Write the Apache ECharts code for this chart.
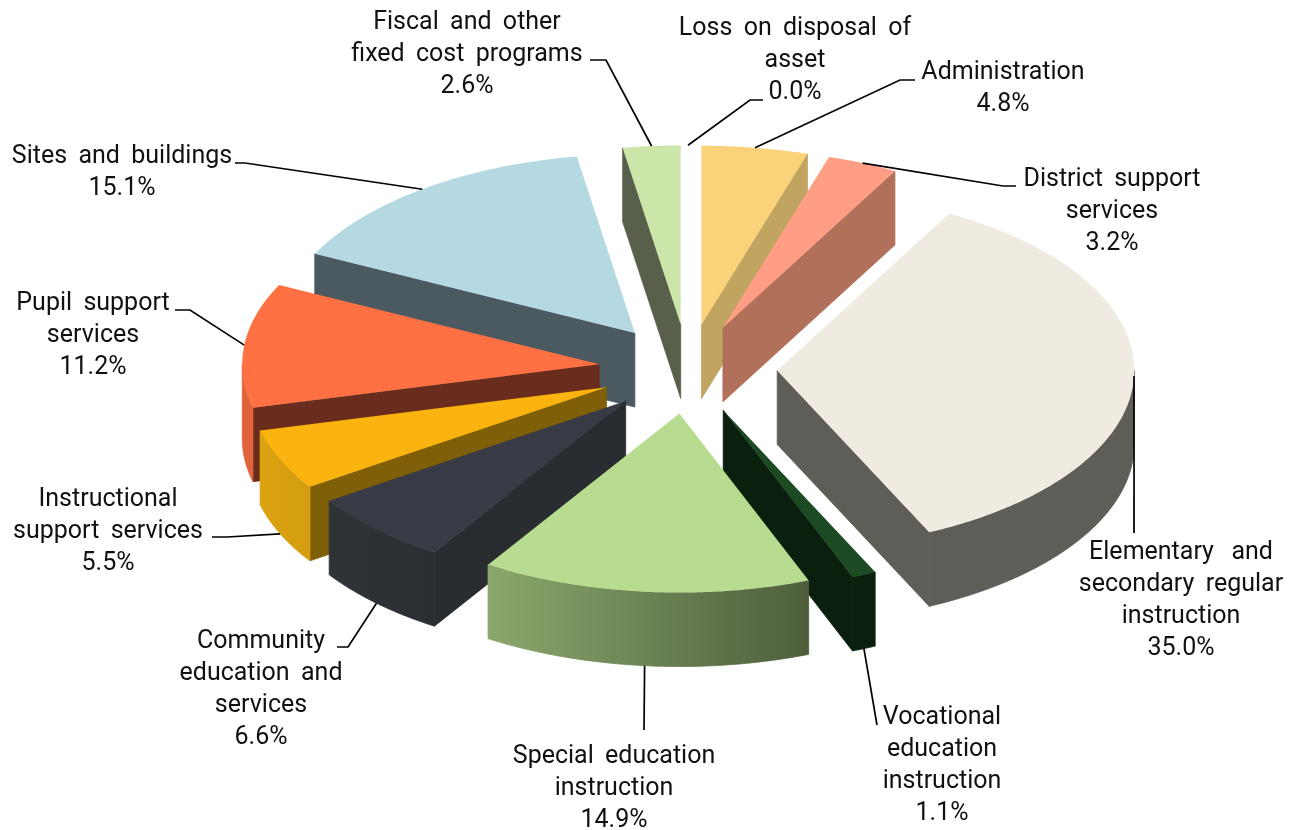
<!DOCTYPE html>
<html>
<head>
<meta charset="utf-8">
<style>html,body{margin:0;padding:0;background:#fff}#c{width:1298px;height:830px}</style>
<script src="https://cdn.jsdelivr.net/npm/echarts@6/dist/echarts.min.js"></script>
</head>
<body>
<div id="c"></div>
<script>
// data, clockwise from twelve o'clock
const categories = [
  'Loss on disposal of asset', 'Administration', 'District support services',
  'Elementary and secondary regular instruction', 'Vocational education instruction',
  'Special education instruction', 'Community education and services',
  'Instructional support services', 'Pupil support services', 'Sites and buildings',
  'Fiscal and other fixed cost programs'
];
const values = [0.0, 4.8, 3.2, 35.0, 1.1, 14.9, 6.6, 5.5, 11.2, 15.1, 2.6];
// wrapped lines; the wider word gaps follow the justified text of the original
const labelLines = [
  ['Loss \u2009on \u2009disposal \u2009of', 'asset'], ['Administration'], ['District \u2009support', 'services'],
  ['Elementary  \u2009and', 'secondary \u2009regular', 'instruction'], ['Vocational', 'education', 'instruction'],
  ['Special \u2009education', 'instruction'], ['Community', 'education \u2009and', 'services'],
  ['Instructional', 'support \u2009services'], ['Pupil \u2009support', 'services'], ['Sites \u2009and \u2009buildings'],
  ['Fiscal \u2009and \u2009other', 'fixed \u2009cost \u2009programs']
];
// styles
const topColors  = ['#cccccc','#f9d27a','#ff9e85','#f0ebe1','#1b4a23','#b7dc8f','#383b45','#fbb40f','#ff7043','#b5d9e3','#cce5a8'];
const sideColors = ['#777777','#c0a460','#b0705a','#5f5d58','#0a1f0e','#50603e','#292c30','#7f5f08','#6a2c1c','#4a5a60','#585f4a'];
const rimLeft    = ['#777777','#c0a460','#b0705a','#5f5d58','#0a1f0e','#8aa86c','#2f3237','#dca411','#e0623a','#4a5a60','#585f4a'];
const rimRight   = ['#777777','#c0a460','#b0705a','#5f5d58','#0a1f0e','#4e5e3c','#2b2e33','#d49c10','#e0623a','#4a5a60','#585f4a'];
const paintOrder = [0, 9, 10, 1, 2, 3, 8, 7, 6, 4, 5];
// layout
const CX = 688, CY = 369, RX = 357, RY = 179, DEPTH = 74, EXPLODE = 0.25;
const labelCenterX = [795, 1003, 1112, 1181, 942, 614, 261, 108, 93, 122, 467];
const labelFirstY  = [27, 71, 178, 551, 716, 755, 640, 498, 302, 155, 21];
const leaderVia = [
  [[750,100],[763,100]], [[900,80],[915,80]], [[1003,186],[1016,186]], [[1134,533]],
  [[877,725]], [[644,730]], [[348,647],[337,647]], [[227,537],[212,537]],
  [[190,310],[175,310]], [[245,163],[235,163]], [[606,60],[590,60]]
];

const FONT = 'Roboto';
const total = values.reduce((a, b) => a + b, 0);
const starts = [];
values.reduce((acc, v, i) => { starts[i] = acc; return acc + v; }, 0);
const rad = v => v / total * Math.PI * 2;

function renderSlice(params, api) {
  const i = params.dataIndex;
  const v = api.value(0);
  const a0 = rad(starts[i]), a1 = a0 + rad(v), mid = (a0 + a1) / 2;
  const ax = CX + EXPLODE * RX * Math.sin(mid), ay = CY - EXPLODE * RY * Math.cos(mid);
  const pt = (a, d) => [ax + RX * Math.sin(a), ay - RY * Math.cos(a) + (d || 0)];
  const rank = paintOrder.indexOf(i) * 5 + 1;
  const kids = [];
  const arc = (from, to, d) => {
    const n = Math.max(2, Math.ceil((to - from) / 0.01)), out = [];
    for (let k = 0; k <= n; k++) out.push(pt(from + (to - from) * k / n, d));
    return out;
  };
  if (v > 0) {
    const face = a => ({
      type: 'polygon', z2: rank,
      shape: { points: [[ax, ay], pt(a), pt(a, DEPTH), [ax, ay + DEPTH]] },
      style: { fill: sideColors[i], stroke: sideColors[i], lineWidth: 0.8 }
    });
    if (a0 >= Math.PI - 1e-6) kids.push(face(a0));
    if (a1 <= Math.PI + 1e-6) kids.push(face(a1));
    // outer wall: the part of the rim facing the viewer
    const f0 = Math.max(a0, Math.PI / 2), f1 = Math.min(a1, Math.PI * 1.5);
    if (f1 > f0) {
      const top = arc(f0, f1, 0), bottom = arc(f0, f1, DEPTH).reverse();
      const grad = new echarts.graphic.LinearGradient(0, 0, 1, 0, [
        { offset: 0, color: rimLeft[i] }, { offset: 1, color: rimRight[i] }
      ]);
      kids.push({
        type: 'polygon', z2: rank + 1,
        shape: { points: top.concat(bottom) },
        style: { fill: grad, stroke: grad, lineWidth: 0.8 }
      });
    }
    kids.push({
      type: 'polygon', z2: rank + 2,
      shape: { points: [[ax, ay]].concat(arc(a0, a1, 0)) },
      style: { fill: topColors[i] }
    });
  }
  // leader and label
  const frontFacing = mid > 1.8 && mid < 4.5;
  const anchor = pt(mid, frontFacing ? DEPTH : 0);
  kids.push({
    type: 'polyline', z2: 200,
    shape: { points: [anchor].concat(leaderVia[i]) },
    style: { stroke: '#000', lineWidth: 1.7, fill: null }
  });
  kids.push({
    type: 'text', z2: 201,
    style: {
      x: labelCenterX[i], y: labelFirstY[i] - 14,
      text: labelLines[i].concat(v.toFixed(1) + '%').join('\n'),
      align: 'center', verticalAlign: 'top', lineHeight: 31.8,
      fontFamily: FONT, fontSize: 25, fill: '#111'
    }
  });
  return { type: 'group', children: kids };
}

const chart = echarts.init(document.getElementById('c'), null, { renderer: 'canvas' });
chart.setOption({
  animation: false,
  backgroundColor: '#fff',
  series: [{
    type: 'custom',
    coordinateSystem: 'none',
    renderItem: renderSlice,
    data: categories.map((name, i) => ({ name, value: [values[i]] }))
  }]
});
</script>
</body>
</html>
